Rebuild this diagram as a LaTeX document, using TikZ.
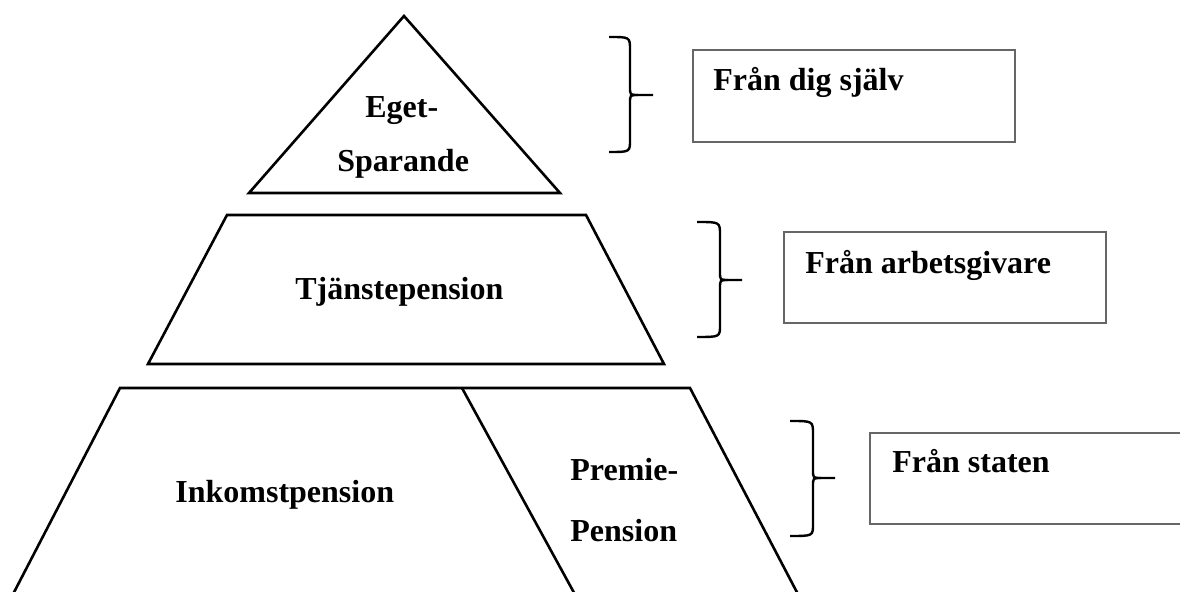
\documentclass[tikz,border=0pt]{standalone}
\usepackage{fontspec}
\setmainfont{Liberation Serif}
\usetikzlibrary{positioning}

\tikzset{
  niva/.style={line width=1.3pt, line join=miter},
  ruta/.style={draw=black!60, line width=0.7pt},
  klammer/.style={line width=1.2pt},
  etikett/.style={font=\fontsize{16}{19}\selectfont\bfseries, inner sep=0pt, anchor=base west}
}

\begin{document}
\begin{tikzpicture}[x=0.5pt,y=-0.5pt]
        \useasboundingbox (0,0) rectangle (1180,592);
        \clip (0,0) rectangle (1180,592);

        % pyramiden
        \draw[niva](404,16)--(560,193)--(249,193)--cycle;
        \draw[niva](227,215)--(586,215)--(664,364)--(148,364)--cycle;
        \draw[niva](10,600)--(120,388)--(690,388)--(801,600);
        \draw[niva](462,388)--(578,600);

        \node[etikett] (eget) at (365,118) {Eget-};
        \node[etikett] (sparande) at (337,172) {Sparande};
        \node[etikett] (tjanst) at (295,300) {Tjänstepension};
        \node[etikett] (inkomst) at (175,503) {Inkomstpension};
        \node[etikett] (premie) at (570,481) {Premie-};
        \node[etikett] (pension) at (570,542) {Pension};

        % klamrar
        \draw[klammer](609,37)..controls(630,37)..(630,50)--(630,87)..controls(630,95)..(638,95)--(653,95);
        \draw[klammer](638,95)..controls(630,95)..(630,103)--(630,140)..controls(630,152)..(609,152);
        \draw[klammer](697,222)..controls(720,222)..(720,235)--(720,272)..controls(720,280)..(728,280)--(742,280);
        \draw[klammer](728,280)..controls(720,280)..(720,288)--(720,325)..controls(720,337)..(697,337);
        \draw[klammer](790,421)..controls(813,421)..(813,434)--(813,470)..controls(813,478)..(821,478)--(835,478);
        \draw[klammer](821,478)..controls(813,478)..(813,486)--(813,524)..controls(813,536)..(790,536);

        % rutor
        \draw[ruta](693,50) rectangle (1015,142);
        \node[etikett] (sjalv) at (713,91) {Från dig själv};
        \draw[ruta](784,232) rectangle (1106,323);
        \node[etikett] (arbete) at (805,274) {Från arbetsgivare};
        \draw[ruta](870,433) rectangle (1200,524);
        \node[etikett] (staten) at (892,473) {Från staten};
    \end{tikzpicture}
\end{document}
